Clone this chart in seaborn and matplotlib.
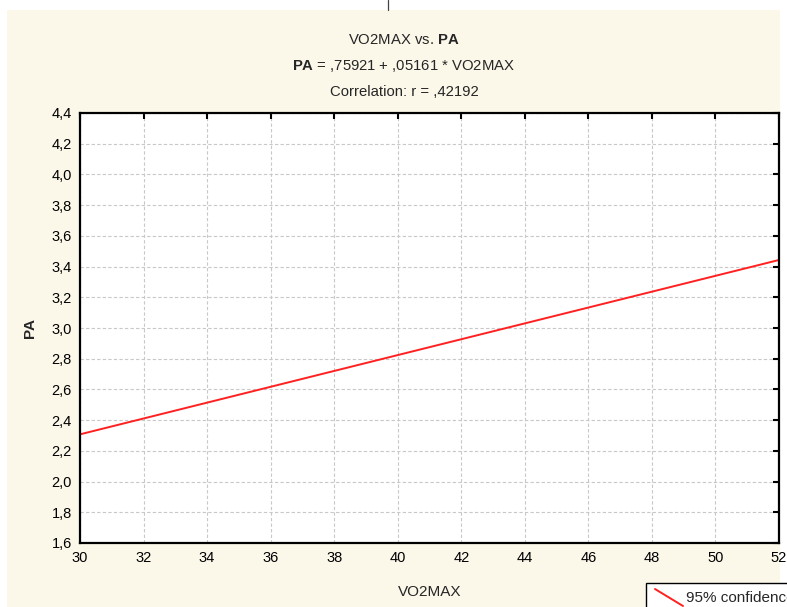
import numpy as np
import pandas as pd
import matplotlib
matplotlib.use("Agg")
import matplotlib.pyplot as plt
import seaborn as sns
from matplotlib.patches import Rectangle
from matplotlib.lines import Line2D

# Data
intercept = 0.75921
slope = 0.05161
x_range = [30, 52]
x_ticks = [30, 32, 34, 36, 38, 40, 42, 44, 46, 48, 50, 52]
y_ticks = [1.6, 1.8, 2.0, 2.2, 2.4, 2.6, 2.8, 3.0, 3.2, 3.4, 3.6, 3.8, 4.0, 4.2, 4.4]
x_label = "VO2MAX"
y_label = "PA"

sns.set_style("white")
plt.rcParams['font.family'] = ['Liberation Sans', 'DejaVu Sans']
plt.rcParams['mathtext.fontset'] = 'custom'
plt.rcParams['mathtext.rm'] = 'Liberation Sans'
plt.rcParams['mathtext.bf'] = 'Liberation Sans:bold'

W, H = 787, 607
fig = plt.figure(figsize=(W / 100, H / 100), dpi=100, facecolor="white")

# cream background
fig.patches.append(Rectangle((7 / W, 0), (780 - 7) / W, (H - 10) / H,
                             transform=fig.transFigure, facecolor="#FBF8EA",
                             edgecolor="none", zorder=-10))
# small vertical line at top
fig.lines.append(Line2D([388 / W, 388 / W], [1, (H - 10) / H], transform=fig.transFigure,
                        color="#444444", linewidth=0.9))

ax = fig.add_axes([80 / W, (H - 543) / H, (779 - 80) / W, (543 - 113) / H])
ax.set_facecolor("white")

xs = np.array(x_range, dtype=float)
df = pd.DataFrame({"x": xs, "y": intercept + slope * xs})
sns.lineplot(data=df, x="x", y="y", ax=ax, color="#FF2020", linewidth=1.4)

ax.set_xlim(30, 52)
ax.set_ylim(1.6, 4.4)
ax.set_xticks(x_ticks)
ax.set_yticks(y_ticks)
ax.set_xticklabels([str(v) for v in x_ticks])
ax.set_yticklabels([f"{v:.1f}".replace(".", ",") for v in y_ticks])
ax.tick_params(direction="in", length=4, width=1.5, top=True, right=True,
               labelsize=10.5, colors="black", pad=6)
ax.grid(True, linestyle=(0, (3, 2)), color="#C8C8C8", linewidth=0.8)
for s in ax.spines.values():
    s.set_visible(True)
    s.set_color("black")
    s.set_linewidth(1.6)

ax.set_xlabel("")
ax.set_ylabel("")
fig.text(430 / W, 1 - 592 / H, x_label, ha="center", va="center", fontsize=11)
fig.text(30 / W, 1 - 328 / H, y_label, ha="center", va="center", fontsize=11,
         fontweight="bold", rotation=90)

# titles
tx = 404 / W
fig.text(tx, 1 - 40 / H, r"VO2MAX vs. $\mathbf{PA}$", ha="center", va="center", fontsize=10.7)
fig.text(tx, 1 - 66 / H, r"$\mathbf{PA}$ = ,75921 + ,05161 * VO2MAX", ha="center", va="center", fontsize=10.7)
fig.text(tx, 1 - 92 / H, "Correlation: r = ,42192", ha="center", va="center", fontsize=10.7)

# legend box (cut off at figure edge)
fig.patches.append(Rectangle((646 / W, -0.05), 0.3, (H - 583) / H + 0.05,
                             transform=fig.transFigure, facecolor="white",
                             edgecolor="black", linewidth=1.0, zorder=5))
fig.lines.append(Line2D([655 / W, 683 / W], [1 - 589 / H, 1 - 606 / H], transform=fig.transFigure,
                        color="#FF2020", linewidth=1.4, zorder=6))
fig.text(686 / W, 1 - 598 / H, "95% confidence", ha="left", va="center", fontsize=11, zorder=7)

fig.savefig("out.png", dpi=100, facecolor="white")
